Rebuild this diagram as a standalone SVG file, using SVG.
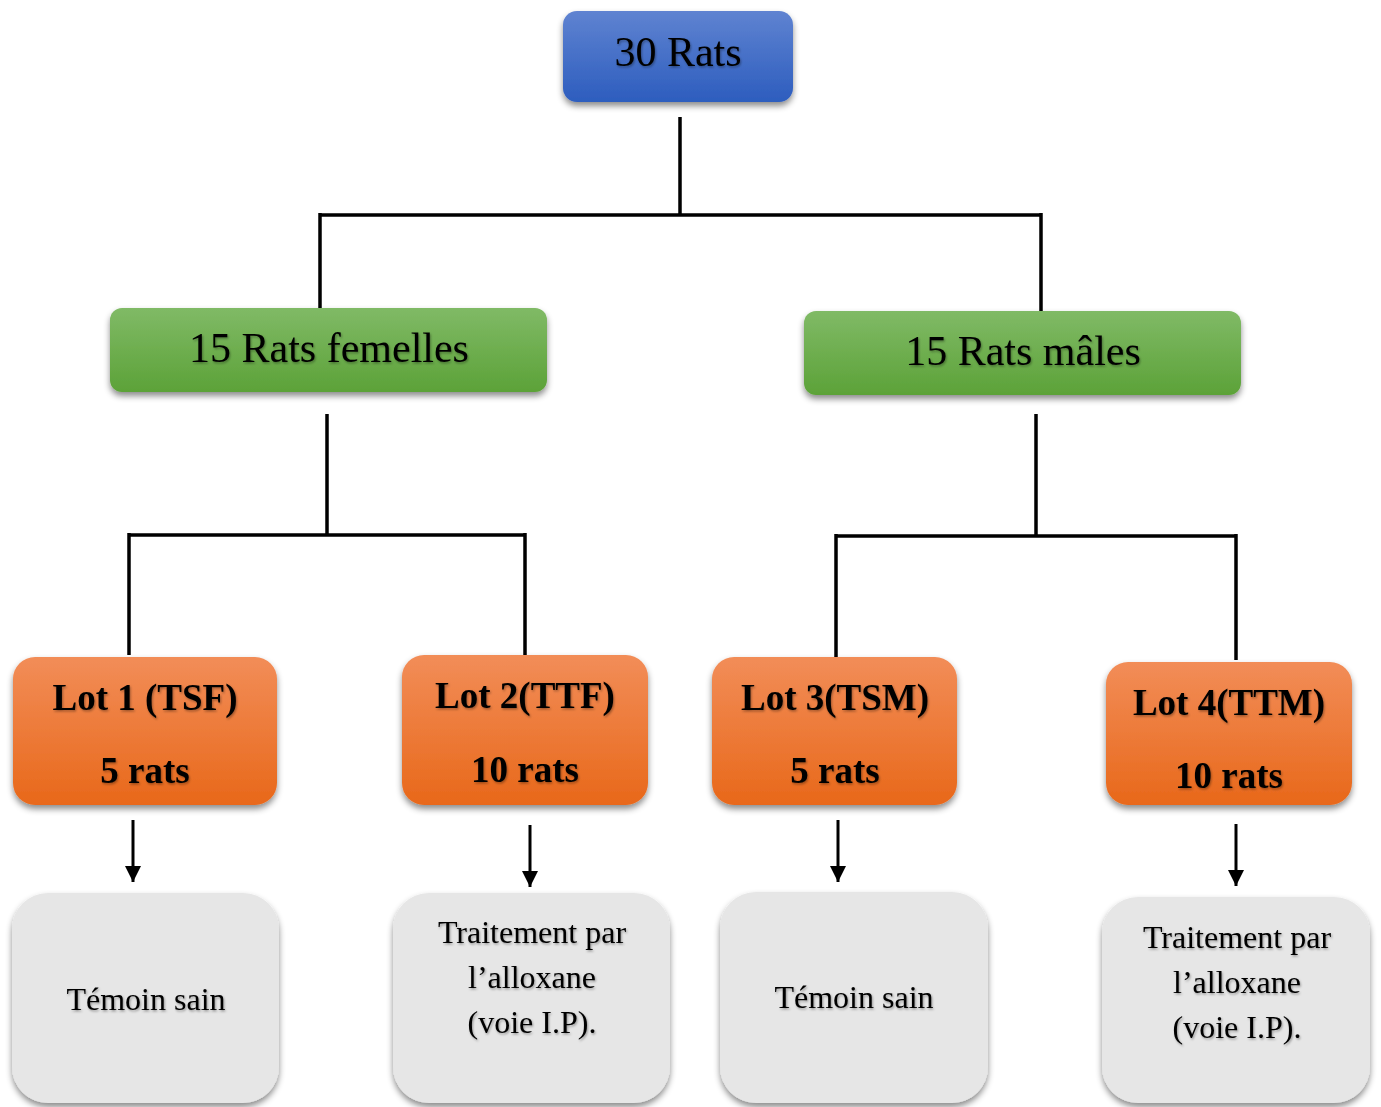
<svg xmlns="http://www.w3.org/2000/svg" width="1381" height="1107" viewBox="0 0 1381 1107">
<style>
.t{font-family:"Liberation Serif","Times New Roman",serif;fill:#000;text-anchor:middle;filter:url(#ts)}
.big{font-size:42px}
.lot{font-size:37px;font-weight:bold}
.g{font-size:32px}
.c{fill:none;stroke:#000;stroke-width:3.5}
.a{fill:none;stroke:#000;stroke-width:3;marker-end:url(#ah)}
</style>
<defs>
<linearGradient id="blue" x1="0" y1="0" x2="0" y2="1"><stop offset="0" stop-color="#5f83d1"/><stop offset="1" stop-color="#2d5dbe"/></linearGradient>
<linearGradient id="green" x1="0" y1="0" x2="0" y2="1"><stop offset="0" stop-color="#80ba66"/><stop offset="1" stop-color="#5ca238"/></linearGradient>
<linearGradient id="orange" x1="0" y1="0" x2="0" y2="1"><stop offset="0" stop-color="#f28d58"/><stop offset="1" stop-color="#e8681a"/></linearGradient>
<filter id="sh" x="-10%" y="-10%" width="120%" height="130%"><feDropShadow dx="0" dy="4" stdDeviation="3" flood-color="#000" flood-opacity="0.45"/></filter>
<filter id="ts" x="-5%" y="-20%" width="110%" height="140%"><feDropShadow dx="1" dy="1.5" stdDeviation="1" flood-color="#000" flood-opacity="0.35"/></filter>
<marker id="ah" viewBox="0 0 10 10" refX="10" refY="5" markerWidth="5.5" markerHeight="5.5" orient="auto" markerUnits="strokeWidth"><path d="M0,0 L10,5 L0,10 z" fill="#000"/></marker>
</defs>
<g id="connectors">
<path class="c" d="M680,117 V215 M320,215 H1041 M320,213 V308 M1041,213 V311"/>
<path class="c" d="M327,414 V535 M129,535 H525 M129,533 V655 M525,533 V655"/>
<path class="c" d="M1036,414 V536 M836,536 H1236 M836,534 V657 M1236,534 V660"/>
<path class="a" d="M133,820 V882"/>
<path class="a" d="M530,825 V887"/>
<path class="a" d="M838,820 V882"/>
<path class="a" d="M1236,824 V886"/>
</g>
<g id="n-30rats"><rect x="563" y="11" width="230" height="91" rx="14" fill="url(#blue)" filter="url(#sh)"/><text class="t big" x="678" y="66">30 Rats</text></g>
<g id="n-femelles"><rect x="110" y="308" width="437" height="84" rx="12" fill="url(#green)" filter="url(#sh)"/><text class="t big" x="329" y="362">15 Rats femelles</text></g>
<g id="n-males"><rect x="804" y="311" width="437" height="84" rx="12" fill="url(#green)" filter="url(#sh)"/><text class="t big" x="1023" y="365">15 Rats mâles</text></g>
<g id="n-lot1"><rect x="13" y="657" width="264" height="148" rx="22" fill="url(#orange)" filter="url(#sh)"/><text class="t lot" x="145" y="710">Lot 1 (TSF)</text><text class="t lot" x="145" y="783">5 rats</text></g>
<g id="n-lot2"><rect x="402" y="655" width="246" height="150" rx="22" fill="url(#orange)" filter="url(#sh)"/><text class="t lot" x="525" y="708">Lot 2(TTF)</text><text class="t lot" x="525" y="782">10 rats</text></g>
<g id="n-lot3"><rect x="712" y="657" width="245" height="148" rx="22" fill="url(#orange)" filter="url(#sh)"/><text class="t lot" x="835" y="710">Lot 3(TSM)</text><text class="t lot" x="835" y="783">5 rats</text></g>
<g id="n-lot4"><rect x="1106" y="662" width="246" height="143" rx="22" fill="url(#orange)" filter="url(#sh)"/><text class="t lot" x="1229" y="715">Lot 4(TTM)</text><text class="t lot" x="1229" y="788">10 rats</text></g>
<g id="n-temoin1"><rect x="12" y="893" width="267" height="210" rx="36" fill="#e6e6e6" filter="url(#sh)"/><text class="t g" x="146" y="1010">Témoin sain</text></g>
<g id="n-trait1"><rect x="393" y="893" width="277" height="210" rx="36" fill="#e6e6e6" filter="url(#sh)"/><text class="t g" x="532" y="943">Traitement par</text><text class="t g" x="532" y="988">l’alloxane</text><text class="t g" x="532" y="1033">(voie I.P).</text></g>
<g id="n-temoin2"><rect x="720" y="892" width="268" height="211" rx="36" fill="#e6e6e6" filter="url(#sh)"/><text class="t g" x="854" y="1008">Témoin sain</text></g>
<g id="n-trait2"><rect x="1102" y="897" width="268" height="206" rx="36" fill="#e6e6e6" filter="url(#sh)"/><text class="t g" x="1237" y="948">Traitement par</text><text class="t g" x="1237" y="993">l’alloxane</text><text class="t g" x="1237" y="1038">(voie I.P).</text></g>
</svg>
